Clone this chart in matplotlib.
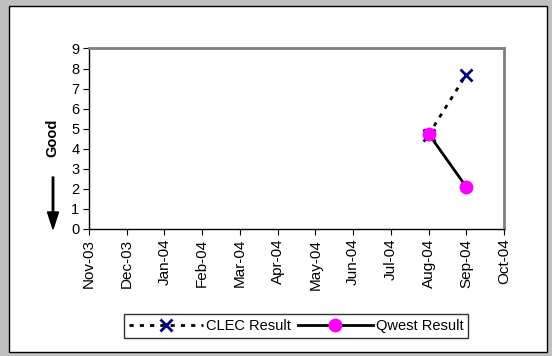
import matplotlib.pyplot as plt
from matplotlib.patches import Rectangle, FancyArrow
import numpy as np

plt.rcParams['font.family'] = ['Liberation Sans', 'DejaVu Sans']

months = ['Nov-03', 'Dec-03', 'Jan-04', 'Feb-04', 'Mar-04', 'Apr-04',
          'May-04', 'Jun-04', 'Jul-04', 'Aug-04', 'Sep-04', 'Oct-04']
clec_result = [None, None, None, None, None, None, None, None, None, 4.7, 7.7, None]
qwest_result = [None, None, None, None, None, None, None, None, None, 4.75, 2.1, None]

clec = np.array([np.nan if v is None else v for v in clec_result])
qwest = np.array([np.nan if v is None else v for v in qwest_result])
x = np.arange(len(months))

W, H = 552, 356
fig = plt.figure(figsize=(W / 100, H / 100), dpi=100)
fig.patch.set_facecolor('#c0c0c0')

# white chart frame
fig.patches.append(Rectangle((9 / W, 1 - 352 / H), (547 - 9) / W, (352 - 6) / H,
                             transform=fig.transFigure, facecolor='white',
                             edgecolor='black', linewidth=1, zorder=-1))

ax = fig.add_axes([89 / W, 1 - 229 / H, (504 - 89) / W, (229 - 48.5) / H])
ax.set_zorder(2)

ax.plot(x, clec, linestyle=(0, (1.5, 2.2)), color='black', linewidth=2,
        marker='x', markersize=8, markeredgewidth=2, markeredgecolor='#000080',
        label='CLEC Result', zorder=3)
ax.plot(x, qwest, linestyle='-', color='black', linewidth=2,
        marker='o', markersize=9, markerfacecolor='#ff00ff', markeredgecolor='#ff00ff',
        label='Qwest Result', zorder=4)

ax.set_xlim(0, len(months) - 1)
ax.set_ylim(0, 9)
ax.set_yticks(range(0, 10))
ax.set_xticks(x)
ax.set_xticklabels(months, rotation=90, fontsize=11)
ax.tick_params(axis='y', labelsize=10.5, length=4, direction='out', pad=3)
ax.tick_params(axis='x', length=4, direction='out', pad=3)

for side in ['top', 'right']:
    ax.spines[side].set_color('#808080')
    ax.spines[side].set_linewidth(2)
for side in ['left', 'bottom']:
    ax.spines[side].set_color('black')
    ax.spines[side].set_linewidth(1)

# "Good" label with downward arrow
fig.text(52 / W, 1 - 138 / H, 'Good', rotation=90, fontsize=10.5, fontweight='bold',
         ha='center', va='center')
ax_arrow = fig.add_axes([0, 0, 1, 1], facecolor='none')
ax_arrow.set_zorder(3)
ax_arrow.set_axis_off()
ax_arrow.set_xlim(0, W)
ax_arrow.set_ylim(H, 0)
ax_arrow.add_patch(FancyArrow(53, 177, 0, 52, width=1.5, head_width=11,
                              head_length=17, length_includes_head=True,
                              color='black'))

leg = fig.legend(loc='center', bbox_to_anchor=(296 / W, 1 - 326 / H), ncol=2,
                 fontsize=10.5, frameon=True, fancybox=False, edgecolor='black',
                 handlelength=5.1, columnspacing=0.5, handletextpad=0.2,
                 borderpad=0.35)
leg.get_frame().set_linewidth(1)
leg.set_zorder(4)

fig.savefig('out.png', dpi=100, facecolor=fig.get_facecolor())
